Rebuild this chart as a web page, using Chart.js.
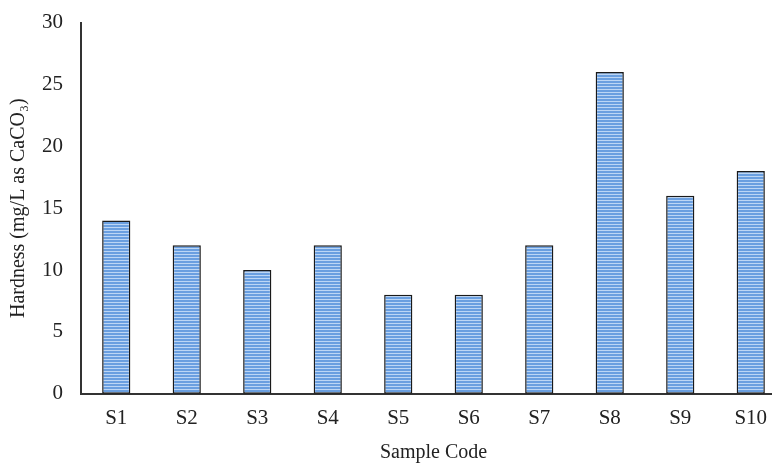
<!DOCTYPE html>
<html>
<head>
<meta charset="utf-8">
<script src="https://cdn.jsdelivr.net/npm/chart.js@4/dist/chart.umd.min.js"></script>
<style>
  html, body { margin: 0; padding: 0; background: #fff; overflow: hidden; }
  #wrap { width: 790px; height: 465px; }
</style>
</head>
<body>
<div id="wrap"><canvas id="myChart"></canvas></div>
<script>
const labels = ["S1", "S2", "S3", "S4", "S5", "S6", "S7", "S8", "S9", "S10"];
const hardness = [14, 12, 10, 12, 8, 8, 12, 26, 16, 18];
const yTicks = [0, 5, 10, 15, 20, 25, 30];

// horizontal stripe fill for the bars
function stripes() {
    const c = document.createElement("canvas");
    c.width = 4; c.height = 3;
    const ctx = c.getContext("2d");
    ctx.fillStyle = "#6a9fe0";
    ctx.fillRect(0, 0, 4, 3);
    ctx.fillStyle = "#bcd6f5";
    ctx.fillRect(0, 2, 4, 1);
    return ctx.createPattern(c, "repeat");
}

const font = "'Liberation Serif', 'Times New Roman', serif";

const myChart = new Chart(document.getElementById("myChart"), {
    type: "bar",
    data: {
        labels,
        datasets: [{
            label: "Hardness",
            data: hardness,
            backgroundColor: stripes(),
            borderColor: "#1a1a1a",
            borderWidth: 1.5,
            borderSkipped: false,
            barPercentage: 0.4,
            categoryPercentage: 1
        }]
    },
    options: {
        responsive: true,
        maintainAspectRatio: false,
        animation: false,
        layout: { padding: { top: 11, right: 4, left: 7, bottom: 0 } },
        plugins: {
            legend: { display: false },
            tooltip: { enabled: false }
        },
        scales: {
            x: {
                grid: { display: false },
                border: { display: true, color: "#333", width: 2 },
                ticks: { color: "#222", font: { family: font, size: 21 }, padding: 4 },
                title: {
                    display: true, text: "Sample Code", color: "#222",
                    font: { family: font, size: 20 }, padding: { top: 6, bottom: 0 }
                }
            },
            y: {
                min: 0, max: 30,
                afterBuildTicks: (axis) => { axis.ticks = yTicks.map(v => ({ value: v })); },
                grid: { display: false },
                border: { display: true, color: "#333", width: 2 },
                ticks: { color: "#222", font: { family: font, size: 21 }, padding: 10 },
                title: {
                    display: true, text: "Hardness (mg/L as CaCO₃)", color: "#222",
                    font: { family: font, size: 20 }, padding: { top: 0, bottom: 1 }
                }
            }
        }
    }
});
</script>
</body>
</html>
